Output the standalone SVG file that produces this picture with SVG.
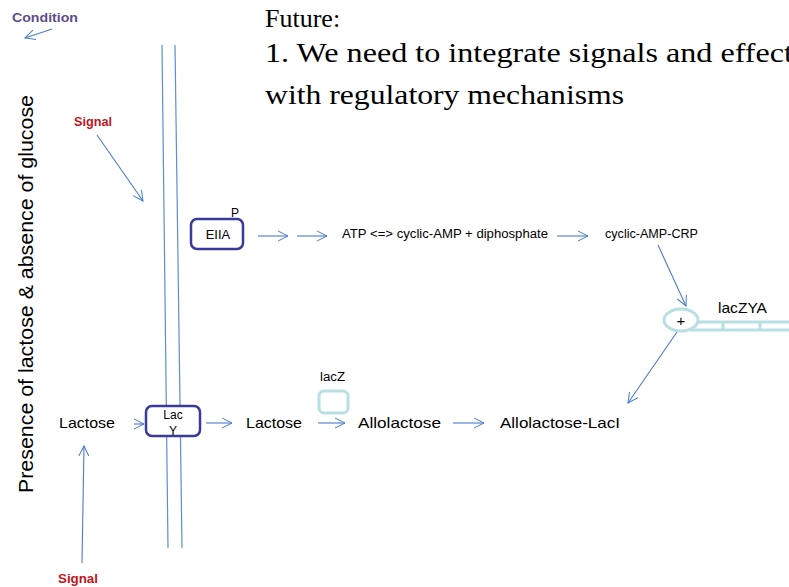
<svg xmlns="http://www.w3.org/2000/svg" width="789" height="587" viewBox="0 0 789 587">
  <defs>
    <marker id="open" viewBox="0 0 12 12" refX="11" refY="6" markerWidth="12" markerHeight="12" markerUnits="userSpaceOnUse" orient="auto">
      <path d="M1,1 L11,6 L1,11" fill="none" stroke="#4a7cc9" stroke-width="1"/>
    </marker>
  </defs>
  <style>
    .lbl { font-family: "Liberation Sans", Arial, sans-serif; fill: #000; }
    .sm { font-size: 12px; }
    .md { font-size: 15px; }
    .sig { font-family: "Liberation Sans", Arial, sans-serif; font-size: 12px; font-weight: bold; fill: #c0141c; }
    .cond { font-family: "Liberation Sans", Arial, sans-serif; font-size: 13px; font-weight: bold; fill: #5f4b8b; }
    .title { font-family: "Liberation Serif", "Times New Roman", serif; fill: #000; }
    .conn line { stroke: #4a7cc9; stroke-width: 1.1; fill: none; }
    .arr { marker-end: url(#open); }
    .prot { fill: #fff; stroke: #3a3a9a; stroke-width: 2.5; }
    .gene { fill: #fff; stroke: #b8dfe3; stroke-width: 3; }
    .membrane { stroke: #5b8fd6; stroke-width: 1.2; }
  </style>
  <rect width="789" height="587" fill="#fff"/>

  <!-- heading -->
  <g id="heading">
    <text class="title" font-size="26" x="265" y="27">Future:</text>
    <text class="title" font-size="28" x="265" y="62" textLength="528" lengthAdjust="spacingAndGlyphs">1. We need to integrate signals and effect</text>
    <text class="title" font-size="28" x="265" y="104" textLength="359" lengthAdjust="spacingAndGlyphs">with regulatory mechanisms</text>
  </g>

  <!-- side caption -->
  <g id="condition">
    <text class="cond" x="12" y="22" textLength="66" lengthAdjust="spacingAndGlyphs">Condition</text>
    <text class="lbl" font-size="20" transform="translate(33,294) rotate(-90)" text-anchor="middle" textLength="398" lengthAdjust="spacingAndGlyphs">Presence of lactose &amp; absence of glucose</text>
  </g>

  <!-- cell membrane -->
  <g id="membrane">
    <line class="membrane" x1="162" y1="45" x2="168" y2="548"/>
    <line class="membrane" x1="175" y1="45" x2="182" y2="548"/>
  </g>

  <g id="signal-top"><text class="sig" x="74" y="126" textLength="38" lengthAdjust="spacingAndGlyphs">Signal</text></g>
  <g id="signal-bottom"><text class="sig" x="58" y="583" textLength="40" lengthAdjust="spacingAndGlyphs">Signal</text></g>

  <!-- upper pathway -->
  <g id="eiia">
    <rect class="prot" x="191" y="219" width="52" height="30" rx="6"/>
    <text class="lbl" font-size="13" x="218" y="239" text-anchor="middle">EIIA</text>
    <text class="lbl sm" x="231" y="217">P</text>
  </g>
  <g id="atp"><text class="lbl sm" x="342" y="238" textLength="206" lengthAdjust="spacingAndGlyphs">ATP &lt;=&gt; cyclic-AMP + diphosphate</text></g>
  <g id="camp-crp"><text class="lbl sm" x="605" y="238" textLength="93" lengthAdjust="spacingAndGlyphs">cyclic-AMP-CRP</text></g>

  <!-- operon -->
  <g id="lacZYA">
    <line x1="690" y1="322" x2="789" y2="322" stroke="#b8dfe3" stroke-width="3"/>
    <line x1="690" y1="330" x2="789" y2="330" stroke="#b8dfe3" stroke-width="3"/>
    <line x1="723" y1="322" x2="723" y2="330" stroke="#b8dfe3" stroke-width="3"/>
    <line x1="760" y1="322" x2="760" y2="330" stroke="#b8dfe3" stroke-width="3"/>
    <ellipse class="gene" cx="681" cy="320" rx="17" ry="11"/>
    <text class="lbl" font-size="15" x="681" y="326" text-anchor="middle">+</text>
    <text class="lbl" font-size="15" x="718" y="313" textLength="49" lengthAdjust="spacingAndGlyphs">lacZYA</text>
  </g>

  <!-- lower pathway -->
  <g id="lactose-out"><text class="lbl md" x="59" y="428" textLength="56" lengthAdjust="spacingAndGlyphs">Lactose</text></g>
  <g id="lacy">
    <rect class="prot" x="146" y="406" width="54" height="30" rx="6"/>
    <text class="lbl sm" x="173" y="419" text-anchor="middle">Lac</text>
    <text class="lbl sm" x="173" y="435" text-anchor="middle">Y</text>
  </g>
  <g id="lactose-in"><text class="lbl md" x="246" y="428" textLength="56" lengthAdjust="spacingAndGlyphs">Lactose</text></g>
  <g id="lacz">
    <rect class="gene" x="319" y="391" width="29" height="22" rx="5"/>
    <text class="lbl sm" x="320" y="381" textLength="25" lengthAdjust="spacingAndGlyphs">lacZ</text>
  </g>
  <g id="allolactose"><text class="lbl md" x="358" y="428" textLength="83" lengthAdjust="spacingAndGlyphs">Allolactose</text></g>
  <g id="allolactose-laci"><text class="lbl md" x="500" y="428" textLength="120" lengthAdjust="spacingAndGlyphs">Allolactose-LacI</text></g>

  <!-- connectors -->
  <g class="conn" id="connectors">
    <line class="arr" x1="52" y1="29" x2="25" y2="38"/>
    <line class="arr" x1="97" y1="135" x2="143" y2="201"/>
    <line class="arr" x1="82" y1="563" x2="84" y2="446"/>
    <line class="arr" x1="258" y1="236" x2="288" y2="236"/>
    <line class="arr" x1="297" y1="236" x2="327" y2="236"/>
    <line class="arr" x1="557" y1="236" x2="588" y2="236"/>
    <line class="arr" x1="658" y1="245" x2="686" y2="306"/>
    <line class="arr" x1="677" y1="332" x2="628" y2="403"/>
    <line class="arr" x1="134" y1="424" x2="144" y2="424"/>
    <line class="arr" x1="206" y1="423" x2="232" y2="423"/>
    <line class="arr" x1="318" y1="423" x2="345" y2="423"/>
    <line class="arr" x1="453" y1="423" x2="484" y2="423"/>
  </g>
</svg>
